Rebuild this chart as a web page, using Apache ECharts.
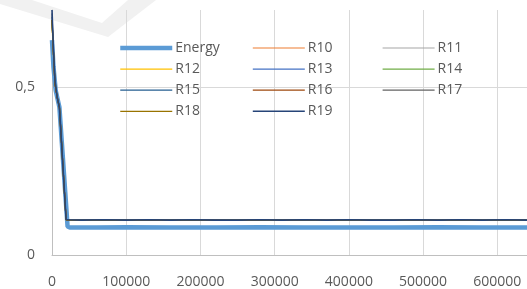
<!DOCTYPE html>
<html><head><meta charset="utf-8">
<script src="https://cdn.jsdelivr.net/npm/echarts@6/dist/echarts.min.js"></script>
<style>html,body{margin:0;padding:0;background:#fff}#c{width:527px;height:289px}</style>
</head><body><div id="c"></div>
<script>
// x positions (iterations)
const xEnergy = [0, 2000, 5000, 8000, 10000, 21000, 24000, 60000, 100000, 160000, 220000, 280000, 340000, 400000, 460000, 520000, 580000, 640000];
const energy  = [0.64, 0.56, 0.49, 0.46, 0.44, 0.085, 0.082, 0.082, 0.083, 0.082, 0.082, 0.083, 0.082, 0.082, 0.082, 0.083, 0.082, 0.082];
const xR = [0, 2000, 4000, 7000, 10000, 19000, 22000, 40000, 70000, 100000, 130000, 160000, 190000, 220000, 250000, 280000, 310000, 340000, 370000, 400000, 430000, 460000, 490000, 520000, 550000, 580000, 610000, 640000];
const rSeries = {
  R10: [0.70, 0.60, 0.51, 0.47, 0.44, 0.105, 0.103, 0.103, 0.104, 0.103, 0.104, 0.103, 0.103, 0.104, 0.103, 0.103, 0.104, 0.103, 0.103, 0.104, 0.103, 0.103, 0.104, 0.103, 0.103, 0.104, 0.103, 0.103],
  R11: [0.70, 0.60, 0.51, 0.47, 0.44, 0.105, 0.104, 0.103, 0.103, 0.104, 0.103, 0.104, 0.103, 0.103, 0.104, 0.103, 0.104, 0.103, 0.104, 0.103, 0.103, 0.104, 0.103, 0.104, 0.103, 0.103, 0.104, 0.103],
  R12: [0.69, 0.59, 0.51, 0.47, 0.44, 0.105, 0.103, 0.104, 0.103, 0.103, 0.104, 0.103, 0.104, 0.103, 0.103, 0.104, 0.103, 0.104, 0.103, 0.103, 0.104, 0.103, 0.103, 0.104, 0.103, 0.104, 0.103, 0.104],
  R13: [0.70, 0.60, 0.51, 0.47, 0.44, 0.105, 0.104, 0.103, 0.104, 0.103, 0.103, 0.104, 0.103, 0.104, 0.103, 0.103, 0.104, 0.103, 0.103, 0.104, 0.103, 0.104, 0.103, 0.103, 0.104, 0.103, 0.104, 0.103],
  R14: [0.70, 0.60, 0.52, 0.47, 0.44, 0.105, 0.103, 0.103, 0.104, 0.104, 0.103, 0.103, 0.104, 0.103, 0.104, 0.103, 0.103, 0.104, 0.103, 0.103, 0.104, 0.103, 0.104, 0.103, 0.103, 0.103, 0.104, 0.103],
  R15: [0.71, 0.60, 0.51, 0.47, 0.44, 0.106, 0.104, 0.104, 0.103, 0.104, 0.103, 0.104, 0.104, 0.103, 0.104, 0.104, 0.103, 0.104, 0.103, 0.104, 0.104, 0.103, 0.104, 0.103, 0.104, 0.104, 0.103, 0.104],
  R16: [0.70, 0.60, 0.51, 0.47, 0.44, 0.105, 0.103, 0.104, 0.104, 0.103, 0.104, 0.103, 0.103, 0.104, 0.103, 0.104, 0.103, 0.103, 0.104, 0.104, 0.103, 0.103, 0.104, 0.103, 0.104, 0.103, 0.103, 0.104],
  R17: [0.72, 0.61, 0.52, 0.47, 0.44, 0.106, 0.104, 0.105, 0.104, 0.104, 0.105, 0.104, 0.104, 0.105, 0.104, 0.104, 0.105, 0.104, 0.104, 0.105, 0.104, 0.104, 0.105, 0.104, 0.104, 0.105, 0.104, 0.104],
  R18: [0.70, 0.60, 0.51, 0.47, 0.44, 0.105, 0.104, 0.103, 0.104, 0.103, 0.104, 0.104, 0.103, 0.103, 0.104, 0.103, 0.104, 0.104, 0.103, 0.104, 0.103, 0.103, 0.104, 0.104, 0.103, 0.104, 0.103, 0.103],
  R19: [0.73, 0.61, 0.52, 0.47, 0.44, 0.106, 0.105, 0.104, 0.105, 0.104, 0.105, 0.104, 0.105, 0.104, 0.104, 0.105, 0.104, 0.105, 0.104, 0.105, 0.104, 0.104, 0.105, 0.104, 0.105, 0.104, 0.105, 0.104]
};
const rColors = {R10:'#ED7D31',R11:'#A5A5A5',R12:'#FFC000',R13:'#4472C4',R14:'#70AD47',R15:'#255E91',R16:'#9E480E',R17:'#636363',R18:'#997300',R19:'#264478'};
const legendCols = [['Energy','R12','R15','R18'],['R10','R13','R16','R19'],['R11','R14','R17']];
const legendLefts = [118, 252, 382];

const font = 'Open Sans';
const series = [{
  name: 'Energy', type: 'line', data: xEnergy.map((x,i)=>[x, energy[i]]),
  symbol: 'none', lineStyle: {width: 4.5, color: '#5B9BD5'}, itemStyle:{color:'#5B9BD5'}, z: 2
}];
Object.keys(rSeries).forEach(k => {
  series.push({name: k, type: 'line', data: xR.map((x,i)=>[x, rSeries[k][i]]), symbol: 'none',
    lineStyle: {width: k === 'R19' ? 1.6 : 1.2, color: rColors[k]}, itemStyle:{color: rColors[k]}, z: 3});
});
const legends = legendCols.map((col, ci) => ({
  data: col, orient: 'vertical', left: legendLefts[ci], top: 41, padding: 0,
  itemWidth: 52, itemHeight: 14, itemGap: 7.1, selectedMode: false,
  itemStyle: {opacity: 0},
  lineStyle: {width: 'inherit'},
  textStyle: {fontFamily: font, fontSize: 14, color: '#595959', padding:[0,0,0,-2]}
}));
const chart = echarts.init(document.getElementById('c'), null, {renderer: 'canvas'});
chart.setOption({
  animation: false,
  backgroundColor: '#fff',
  graphic: [{type:'polygon', z: -10, silent: true,
    shape: {points: [[0,0],[0,4],[108,37],[156,0],[128,0],[102,23],[32,0]]},
    style: {fill: '#F1F1F1'}}],
  grid: {left: 52, right: 0, top: 10, bottom: 33},
  legend: legends,
  xAxis: {type: 'value', min: 0, max: 640000, interval: 100000,
    axisLine: {show: true, lineStyle: {color: '#BFBFBF'}}, axisTick: {show: false},
    axisLabel: {fontFamily: font, fontSize: 14, color: '#595959', margin: 20, showMaxLabel: false,
      formatter: v => String(v)},
    splitLine: {show: true, lineStyle: {color: '#D9D9D9'}}},
  yAxis: {type: 'value', min: 0, max: 0.73, interval: 0.5,
    axisLine: {show: true, lineStyle: {color: '#BFBFBF'}}, axisTick: {show: false},
    axisLabel: {fontFamily: font, fontSize: 14, color: '#595959', margin: 17, showMaxLabel: false,
      formatter: v => String(v).replace('.', ',')},
    splitLine: {show: true, showMaxLine: false, lineStyle: {color: '#D9D9D9'}}},
  series: series
});
</script></body></html>
